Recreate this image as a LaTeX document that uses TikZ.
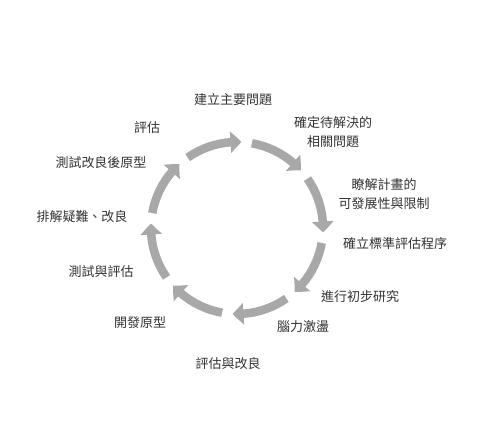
\documentclass[tikz,border=0pt]{standalone}
\usepackage{fontspec}
\newfontfamily\cjk{Noto Sans CJK TC}
\usetikzlibrary{arrows.meta,bending}
\definecolor{arrgray}{HTML}{A8A8A8}
\definecolor{txtgray}{HTML}{333333}
\tikzset{
  cyclearrow/.style={draw=arrgray, line width=8.5pt, -{Triangle[width=21pt,length=11pt,bend]}},
  lbl/.style={font=\cjk\fontsize{13}{19}\selectfont, text=txtgray, inner sep=0pt, align=center}
}
\begin{document}
\begin{tikzpicture}[x=1pt,y=1pt]
\useasboundingbox (0,0) rectangle (501,441);
\fill[white] (0,0) rectangle (501,441);
\coordinate (c) at (237,213);
\foreach \s in {125,80,35,-10,-55,-100,-145,-190}{
  \draw[cyclearrow] ([shift={(\s:86)}]c) arc[start angle=\s, end angle=\s-38, radius=86];
}
\node[lbl] (t1) at (233,341) {建立主要問題};
\node[lbl] (t2) at (333,309) {確定待解決的\\相關問題};
\node[lbl] (t3) at (384,247) {瞭解計畫的\\可發展性與限制};
\node[lbl] (t4) at (395,197) {確立標準評估程序};
\node[lbl] (t5) at (360,144) {進行初步研究};
\node[lbl] (t6) at (303,114) {腦力激盪};
\node[lbl] (t7) at (228,77) {評估與改良};
\node[lbl] (t8) at (140,118) {開發原型};
\node[lbl] (t9) at (101,169) {測試與評估};
\node[lbl] (t10) at (82,224) {排解疑難、改良};
\node[lbl] (t11) at (101,278) {測試改良後原型};
\node[lbl] (t12) at (147,313) {評估};
\end{tikzpicture}
\end{document}
